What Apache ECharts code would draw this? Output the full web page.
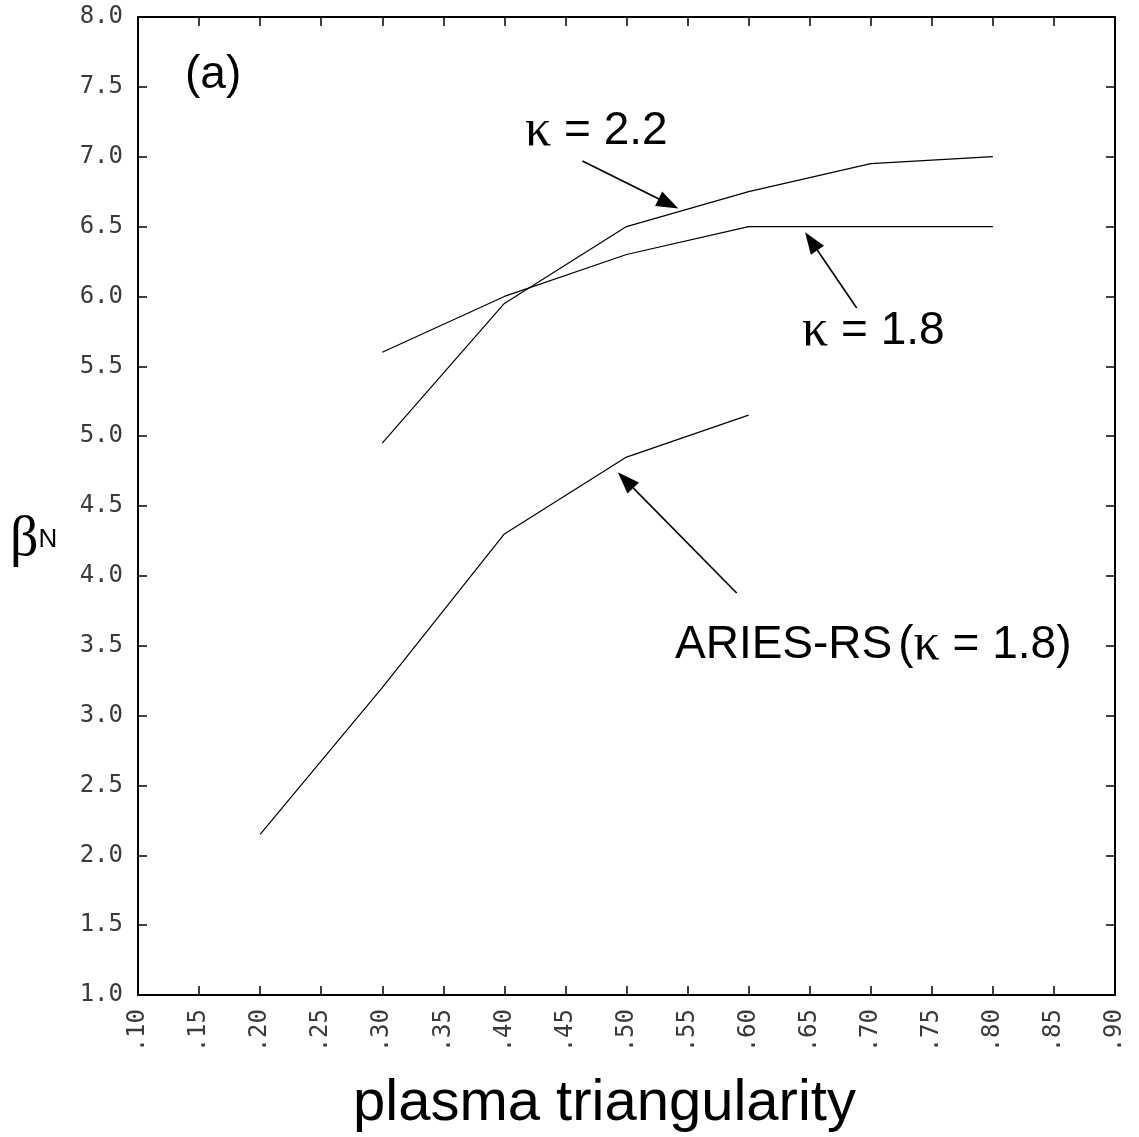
<!DOCTYPE html>
<html>
<head>
<meta charset="utf-8">
<script src="https://cdn.jsdelivr.net/npm/echarts@6/dist/echarts.min.js"></script>
<style>
html,body{margin:0;padding:0;background:#fff;}
#chart{width:1139px;height:1137px;}
</style>
</head>
<body>
<div id="chart"></div>
<script>
// ---- data ----
var triangularity = [0.20, 0.30, 0.40, 0.50, 0.60, 0.70, 0.80];
var kappa22 = [null, 4.95, 5.95, 6.50, 6.75, 6.95, 7.00];
var kappa18 = [null, 5.60, 6.00, 6.30, 6.50, 6.50, 6.50];
var ariesRS = [2.15, 3.20, 4.30, 4.85, 5.15, null, null];
var xTicks = {min: 0.10, max: 0.90, interval: 0.05};
var yTicks = {min: 1.0, max: 8.0, interval: 0.5};
// annotation arrows: [tailX, tailY, headX, headY] in data units
var arrows = [
  [0.4639, 6.969, 0.5344, 6.664],
  [0.6885, 5.917, 0.6513, 6.395],
  [0.5902, 3.877, 0.4992, 4.685]
];

function pairs(ys) {
  var out = [];
  for (var i = 0; i < triangularity.length; i++) {
    if (ys[i] !== null) out.push([triangularity[i], ys[i]]);
  }
  return out;
}

var chart = echarts.init(document.getElementById('chart'), null, {renderer: 'canvas'});
var monoFont = "'DejaVu Sans Mono', monospace";
var sansFont = "Arial, 'Liberation Sans', sans-serif";
var serifFont = "'Liberation Serif', 'DejaVu Serif', serif";

function baseX(pos, showLabel) {
  return {
    type: 'value', position: pos, min: xTicks.min, max: xTicks.max, interval: xTicks.interval,
    axisLine: {show: true, onZero: false, lineStyle: {color: '#000', width: 2}},
    axisTick: {show: true, inside: true, length: 9, lineStyle: {color: '#000', width: 1.5}},
    splitLine: {show: false},
    axisLabel: {
      show: showLabel, rotate: 90, margin: 14, color: '#3a3a3a', fontFamily: monoFont, fontSize: 24,
      formatter: function (v) { return '.' + String(Math.round(v * 100)); }
    }
  };
}
function baseY(pos, showLabel) {
  return {
    type: 'value', position: pos, min: yTicks.min, max: yTicks.max, interval: yTicks.interval,
    axisLine: {show: true, onZero: false, lineStyle: {color: '#000', width: 2}},
    axisTick: {show: true, inside: true, length: 9, lineStyle: {color: '#000', width: 1.5}},
    splitLine: {show: false},
    axisLabel: {
      show: showLabel, margin: 15, color: '#3a3a3a', fontFamily: monoFont, fontSize: 24,
      formatter: function (v) { return v.toFixed(1); }
    }
  };
}

var arrowData = arrows.map(function (a) {
  return [{coord: [a[0], a[1]]}, {coord: [a[2], a[3]]}];
});

var lineStyle = {color: '#000', width: 1.2};

var option = {
  backgroundColor: '#fff',
  animation: false,
  grid: {left: 138, top: 17, width: 977, height: 978, containLabel: false},
  xAxis: [baseX('bottom', true), baseX('top', false)],
  yAxis: [baseY('left', true), baseY('right', false)],
  series: [
    {
      name: 'κ = 2.2', type: 'line', data: pairs(kappa22), showSymbol: false, symbol: 'none',
      lineStyle: lineStyle, xAxisIndex: 0, yAxisIndex: 0,
      markLine: {
        silent: true, symbol: ['none', 'triangle'], symbolSize: [16, 22],
        label: {show: false},
        lineStyle: {color: '#000', width: 1.6, type: 'solid'},
        data: arrowData
      }
    },
    {
      name: 'κ = 1.8', type: 'line', data: pairs(kappa18), showSymbol: false, symbol: 'none',
      lineStyle: lineStyle, xAxisIndex: 0, yAxisIndex: 0
    },
    {
      name: 'ARIES-RS (κ = 1.8)', type: 'line', data: pairs(ariesRS), showSymbol: false, symbol: 'none',
      lineStyle: lineStyle, xAxisIndex: 0, yAxisIndex: 0
    }
  ],
  graphic: [
    {type: 'text', left: 185, top: 52, style: {text: '(a)', font: '46px ' + sansFont, fill: '#000'}},
    {type: 'text', x: 525, y: 131, style: {
      text: '{k|κ}{t| = 2.2}', textVerticalAlign: 'middle',
      rich: {k: {fontFamily: serifFont, fontSize: 52, fill: '#000'}, t: {fontFamily: sansFont, fontSize: 46, fill: '#000'}}
    }},
    {type: 'text', x: 802, y: 331, style: {
      text: '{k|κ}{t| = 1.8}', textVerticalAlign: 'middle',
      rich: {k: {fontFamily: serifFont, fontSize: 52, fill: '#000'}, t: {fontFamily: sansFont, fontSize: 46, fill: '#000'}}
    }},
    {type: 'text', x: 675, y: 645, style: {
      text: '{t|ARIES-RS}{p|(}{k|κ}{t| = 1.8)}', textVerticalAlign: 'middle',
      rich: {
        t: {fontFamily: sansFont, fontSize: 46, fill: '#000'},
        p: {fontFamily: sansFont, fontSize: 46, fill: '#000', padding: [0, 0, 0, 6]},
        k: {fontFamily: serifFont, fontSize: 52, fill: '#000'}
      }
    }},
    {type: 'text', x: 353, y: 1104, style: {
      text: 'plasma triangularity', textVerticalAlign: 'middle', font: '58px ' + sansFont, fill: '#000'
    }},
    {type: 'text', x: 10, y: 540, style: {
      text: '{b|β}{n|N}', textVerticalAlign: 'middle',
      rich: {b: {fontFamily: serifFont, fontSize: 56, fill: '#000'}, n: {fontFamily: sansFont, fontSize: 26, fill: '#000'}}
    }}
  ]
};
chart.setOption(option);
</script>
</body>
</html>
